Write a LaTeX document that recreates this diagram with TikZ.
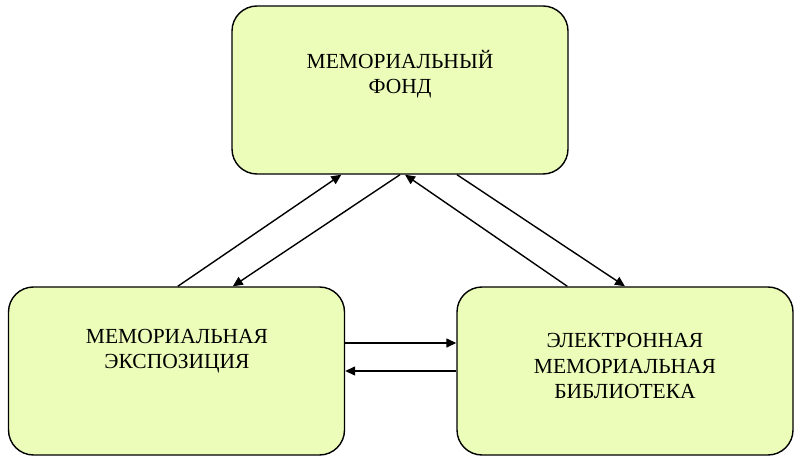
\documentclass[tikz,border=0pt]{standalone}
\usepackage{fontspec}
\setmainfont{Liberation Serif}
\usetikzlibrary{arrows.meta}
\definecolor{boxfill}{RGB}{236,253,186}
\tikzset{
  box/.style={draw=black, line width=1.4pt, fill=boxfill, rounded corners=25pt, minimum width=336pt, minimum height=168pt, inner sep=0pt},
  lbl/.style={align=center, font=\fontsize{21.5}{25.5}\selectfont, inner sep=0pt},
  conn/.style={draw=black, line width=1.4pt, -{Triangle[length=10pt,width=9pt]}}
}
\begin{document}
\begin{tikzpicture}[x=1pt,y=-1pt]
\useasboundingbox (0,0) rectangle (800,462);
\node[box] (top) at (400,90) {};
\node[box] (left) at (176.5,371) {};
\node[box] (right) at (625,371) {};
\node[lbl] (ttop) at (400,74) {МЕМОРИАЛЬНЫЙ\\ФОНД};
\node[lbl] (tleft) at (177,351) {МЕМОРИАЛЬНАЯ\\ЭКСПОЗИЦИЯ};
\node[lbl] (tright) at (625,366) {ЭЛЕКТРОННАЯ\\МЕМОРИАЛЬНАЯ\\БИБЛИОТЕКА};
\draw[conn] ([xshift=170pt]left.north west) -- ([xshift=110pt]top.south west);
\draw[conn] (top.south) -- ([xshift=225pt]left.north west);
\draw[conn] ([xshift=111pt]right.north west) -- ([xshift=5pt]top.south);
\draw[conn] ([xshift=57pt]top.south) -- (right.north);
\draw[conn] ([yshift=28pt]left.east) -- ([yshift=28pt]right.west);
\draw[conn] (right.west) -- (left.east);
\end{tikzpicture}
\end{document}
